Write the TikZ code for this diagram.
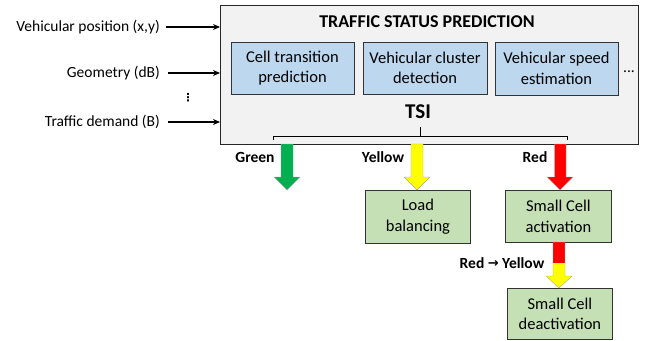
\documentclass[tikz,border=0pt]{standalone}
\usepackage{fontspec}
\setmainfont{Carlito}
\newfontfamily\symfont{DejaVu Sans}
\usetikzlibrary{arrows.meta}
\begin{document}
\begin{tikzpicture}[x=1pt,y=-1pt,
  lbl/.style={font=\fontsize{15.5}{18}\selectfont, inner sep=0pt},
  blbl/.style={font=\bfseries\fontsize{15.5}{18}\selectfont, inner sep=0pt},
  bluebox/.style={draw=black!80, line width=0.8pt, fill=boxblue, align=center, font=\fontsize{16.5}{20.5}\selectfont},
  greenbox/.style={draw=black!80, line width=0.8pt, fill=boxgreen, align=center, font=\fontsize{16.5}{20.5}\selectfont},
  inarrow/.style={-{Stealth[length=7pt,width=6pt]}, line width=1.1pt},
  blockarrow/.style={draw=black!35, line width=0.4pt},
]
\definecolor{boxblue}{HTML}{BDD7EE}
\definecolor{boxgreen}{HTML}{C5E0B4}
\definecolor{panel}{HTML}{F2F2F2}
\definecolor{agreen}{HTML}{00B050}
\definecolor{ayellow}{HTML}{FFFF00}
\definecolor{ared}{HTML}{FF0000}
\useasboundingbox (0,0) rectangle (658,340);

% main panel
\node[draw=black!85, line width=0.9pt, fill=panel, minimum width=418pt, minimum height=139pt, anchor=north west, inner sep=0pt] (tsp) at (220,5) {};
\node[font=\bfseries\fontsize{18}{21}\selectfont, inner sep=0pt] (title) at (427,22) {TRAFFIC STATUS PREDICTION};

\node[bluebox, minimum width=123pt, minimum height=52pt, inner sep=0pt] (b1) at (292.5,68) {Cell transition\\prediction};
\node[bluebox, minimum width=124pt, minimum height=52pt, inner sep=0pt] (b2) at (425,68) {Vehicular cluster\\detection};
\node[bluebox, minimum width=123pt, minimum height=53pt, inner sep=0pt] (b3) at (556.5,68.5) {Vehicular speed\\estimation};
\node[lbl] (dots) at (629,72) {...};

\node[font=\bfseries\fontsize{21}{24}\selectfont, inner sep=0pt] (tsi) at (418,112) {TSI};
% brace
\coordinate (bl) at (273,140);
\coordinate (br) at (567,140);
\coordinate (bm) at (420,127);
\draw[line width=0.8pt] (bl) -- (273,136) -- (567,136) -- (br);
\draw[line width=0.8pt] (bm) -- (420,136);

% inputs
\node[lbl, anchor=east] (in1) at (160,27) {Vehicular position (x,y)};
\node[lbl, anchor=east] (in2) at (160,73) {Geometry (dB)};
\node[lbl, anchor=east] (in3) at (160,122) {Traffic demand (B)};
\node[inner sep=0pt, font=\symfont\bfseries\fontsize{11}{12}\selectfont] (vd) at (188,98) {⋮};
\draw[inarrow] (166,27) -- (tsp.west |- in1);
\draw[inarrow] (168,73) -- (tsp.west |- in2);
\draw[inarrow] (168,122) -- (tsp.west |- in3);

% output boxes
\node[greenbox, minimum width=105pt, minimum height=53pt, inner sep=0pt, anchor=north west] (lb) at (365,190) {Load\\balancing};
\node[greenbox, minimum width=106pt, minimum height=52pt, inner sep=0pt, anchor=north west] (sca) at (505,190) {Small Cell\\activation};
\node[greenbox, minimum width=105pt, minimum height=51pt, inner sep=0pt, anchor=north west] (scd) at (507,288) {Small Cell\\deactivation};

% labels
\node[blbl] (lg) at (255,157) {Green};
\node[blbl] (ly) at (383,157) {Yellow};
\node[blbl] (lr) at (535,157) {Red};
\node[blbl] (lry) at (502,263) {Red \raisebox{0.5pt}{\symfont\fontsize{13}{15}\selectfont →} Yellow};

% block arrows
\coordinate (gtip) at (287,190);
\draw[blockarrow, fill=agreen] (281,144) -- (293,144) -- (293,177) -- (300,177) -- (gtip) -- (274,177) -- (281,177) -- cycle;
\coordinate (ytip) at (417,190);
\draw[blockarrow, fill=ayellow] (411,144) -- (423,144) -- (423,177) -- (430,177) -- (ytip) -- (404,177) -- (411,177) -- cycle;
\coordinate (rtip) at (560,190);
\draw[blockarrow, fill=ared] (554.5,144) -- (566,144) -- (566,177) -- (573,177) -- (rtip) -- (547,177) -- (554.5,177) -- cycle;
\coordinate (rytip) at (559,288);
\fill[ared] (553,242) rectangle (565,263);
\fill[ayellow] (553,263) -- (565,263) -- (565,276) -- (572,276) -- (rytip) -- (546,276) -- (553,276) -- cycle;
\draw[blockarrow] (553,242) -- (565,242) -- (565,276) -- (572,276) -- (rytip) -- (546,276) -- (553,276) -- cycle;
\end{tikzpicture}
\end{document}
